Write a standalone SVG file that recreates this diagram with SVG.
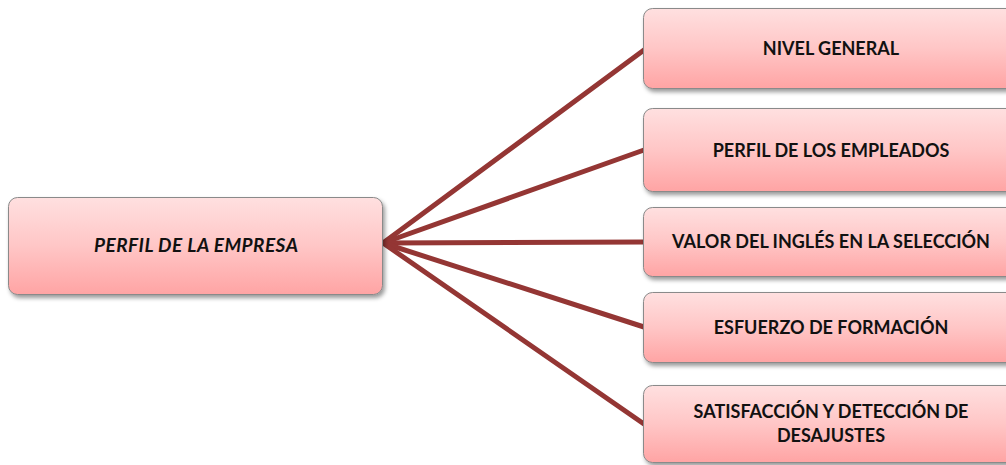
<svg xmlns="http://www.w3.org/2000/svg" width="1006" height="465" viewBox="0 0 1006 465">
  <defs>
    <linearGradient id="boxFill" x1="0" y1="0" x2="0" y2="1">
      <stop offset="0" stop-color="#ffe0e0"/>
      <stop offset="0.5" stop-color="#ffc6c6"/>
      <stop offset="1" stop-color="#ffa4a4"/>
    </linearGradient>
    <filter id="shadow" x="-5%" y="-10%" width="115%" height="130%">
      <feDropShadow dx="2" dy="3" stdDeviation="2" flood-color="#000" flood-opacity="0.4"/>
    </filter>
    <style>
      .box { fill: url(#boxFill); stroke: #8a8a8a; stroke-width: 1; filter: url(#shadow); }
      .lbl { font-family: Lato, "Liberation Sans", sans-serif; font-weight: bold; font-size: 18px; fill: #111; text-anchor: middle; }
      .root { font-style: italic; font-size: 19px; }
      .edge { stroke: #943634; stroke-width: 5; stroke-linecap: round; fill: none; }
    </style>
  </defs>

  <!-- connectors from the central node to each topic -->
  <g id="connectors">
    <line class="edge" x1="383" y1="243" x2="644" y2="50"/>
    <line class="edge" x1="383" y1="243" x2="644" y2="150"/>
    <line class="edge" x1="383" y1="243" x2="644" y2="242"/>
    <line class="edge" x1="383" y1="243" x2="644" y2="327"/>
    <line class="edge" x1="383" y1="243" x2="644" y2="424"/>
  </g>

  <g id="node-root">
    <rect class="box" x="8.5" y="197.5" width="374" height="97" rx="9"/>
    <text class="lbl root" x="196" y="252" textLength="204" lengthAdjust="spacing">PERFIL DE LA EMPRESA</text>
  </g>

  <g id="node-nivel">
    <rect class="box" x="643.5" y="8.5" width="376" height="80" rx="9"/>
    <text class="lbl" x="831" y="55">NIVEL GENERAL</text>
  </g>

  <g id="node-empleados">
    <rect class="box" x="643.5" y="108.5" width="376" height="83" rx="9"/>
    <text class="lbl" x="831" y="157">PERFIL DE LOS EMPLEADOS</text>
  </g>

  <g id="node-ingles">
    <rect class="box" x="643.5" y="207.5" width="376" height="69" rx="9"/>
    <text class="lbl" x="831" y="248">VALOR DEL INGLÉS EN LA SELECCIÓN</text>
  </g>

  <g id="node-formacion">
    <rect class="box" x="643.5" y="292.5" width="376" height="70" rx="9"/>
    <text class="lbl" x="831" y="334">ESFUERZO DE FORMACIÓN</text>
  </g>

  <g id="node-satisfaccion">
    <rect class="box" x="643.5" y="385.5" width="376" height="77" rx="9"/>
    <text class="lbl" x="831" y="418">SATISFACCIÓN Y DETECCIÓN DE</text>
    <text class="lbl" x="831" y="442">DESAJUSTES</text>
  </g>
</svg>
